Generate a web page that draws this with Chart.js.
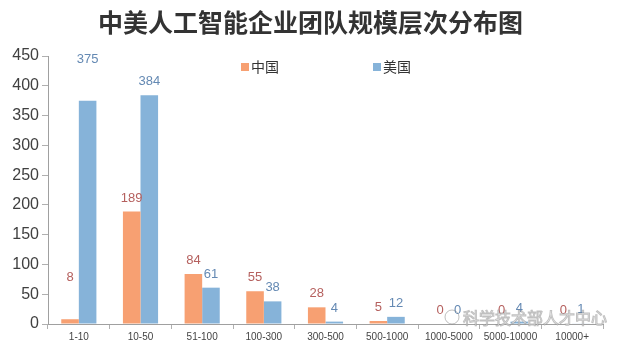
<!DOCTYPE html>
<html>
<head>
<meta charset="utf-8">
<script src="https://cdn.jsdelivr.net/npm/chart.js@4.4.0/dist/chart.umd.min.js"></script>
<style>
  html, body { margin: 0; padding: 0; background: #fff; }
  #wrap { width: 621px; height: 347px; }
</style>
</head>
<body>
<div id="wrap"><canvas id="team-size"></canvas></div>
<script>
// team size buckets and company counts
const sizeLabels = ['1-10', '10-50', '51-100', '100-300', '300-500', '500-1000', '1000-5000', '5000-10000', '10000+'];
const chinaCounts = [8, 189, 84, 55, 28, 5, 0, 0, 0];
const usCounts = [375, 384, 61, 38, 4, 12, 0, 4, 1];
const yTicks = [0, 50, 100, 150, 200, 250, 300, 350, 400, 450];
const chartTitle = '中美人工智能企业团队规模层次分布图';

const cjk = '"Noto Sans CJK SC", "Noto Sans", sans-serif';
const latin = '"Liberation Sans", Arial, sans-serif';

// numbers over each bar
const valueLabels = {
  id: 'valueLabels',
  afterDatasetsDraw(chart, args, opts) {
    const ctx = chart.ctx;
    ctx.save();
    ctx.font = '13px ' + latin;
    ctx.textAlign = 'center';
    ctx.textBaseline = 'bottom';
    chart.data.datasets.forEach((ds, i) => {
      const meta = chart.getDatasetMeta(i);
      ctx.fillStyle = opts.colors[i];
      meta.data.forEach((bar, j) => {
        let lift = 7;
        if (j === 0) lift = 35;   // first group sits higher
        ctx.fillText(String(ds.data[j]), bar.x, bar.y - lift);
      });
    });
    ctx.restore();
  }
};

// title centred on the whole canvas, plus the legend inside the plot
const header = {
  id: 'header',
  afterDraw(chart, args, opts) {
    const ctx = chart.ctx;
    ctx.save();
    ctx.font = 'bold 25px ' + cjk;
    ctx.textAlign = 'center';
    ctx.textBaseline = 'middle';
    ctx.fillStyle = '#333';
    ctx.fillText(opts.text, chart.width / 2, 22);

    ctx.font = '14px ' + cjk;
    ctx.textAlign = 'left';
    chart.data.datasets.forEach((ds, i) => {
      const x = opts.legendX[i];
      ctx.fillStyle = ds.backgroundColor;
      ctx.fillRect(x, opts.legendY - 4, 8, 8);
      ctx.fillStyle = '#333';
      ctx.fillText(ds.label, x + 10, opts.legendY);
    });
    ctx.restore();
  }
};

// faint source mark in the lower right corner
const sourceMark = {
  id: 'sourceMark',
  afterDraw(chart) {
    const ctx = chart.ctx;
    ctx.save();
    ctx.font = '16px ' + cjk;
    ctx.textAlign = 'left';
    ctx.textBaseline = 'middle';
    ctx.lineWidth = 1;
    ctx.strokeStyle = 'rgba(130,130,130,0.5)';
    ctx.fillStyle = 'rgba(255,255,255,0.85)';
    ctx.fillText('科学技术部人才中心', 463, 318);
    ctx.strokeText('科学技术部人才中心', 463, 318);
    ctx.beginPath();
    ctx.arc(452, 317, 7, 0, Math.PI * 2);
    ctx.stroke();
    ctx.restore();
  }
};

new Chart(document.getElementById('team-size'), {
  type: 'bar',
  data: {
    labels: sizeLabels,
    datasets: [
      { label: '中国', data: chinaCounts, backgroundColor: '#F7A072' },
      { label: '美国', data: usCounts, backgroundColor: '#86B3D9' }
    ]
  },
  options: {
    responsive: true,
    maintainAspectRatio: false,
    animation: false,
    layout: { padding: { left: 0, right: 18, top: 56, bottom: 2 } },
    datasets: { bar: { categoryPercentage: 0.57, barPercentage: 1.0 } },
    scales: {
      x: {
        grid: { display: true, drawOnChartArea: false, tickLength: 5, color: '#b0b0b0' },
        border: { color: '#a0a0a0' },
        ticks: { font: { family: latin, size: 10 }, color: '#444', padding: 2, maxRotation: 0, autoSkip: false }
      },
      y: {
        min: 0,
        max: 450,
        afterFit(scale) { scale.width = 48; },
        afterBuildTicks(scale) { scale.ticks = yTicks.map(v => ({ value: v })); },
        grid: { display: true, drawOnChartArea: false, tickLength: 6, color: '#b0b0b0' },
        border: { color: '#a0a0a0' },
        ticks: { font: { family: latin, size: 16 }, color: '#404040', padding: 3 }
      }
    },
    plugins: {
      title: { display: false },
      legend: { display: false },
      tooltip: { enabled: false },
      valueLabels: { colors: ['#B5605E', '#6489B3'] },
      header: { text: chartTitle, legendX: [241, 373], legendY: 67 }
    }
  },
  plugins: [valueLabels, header, sourceMark]
});
</script>
</body>
</html>
